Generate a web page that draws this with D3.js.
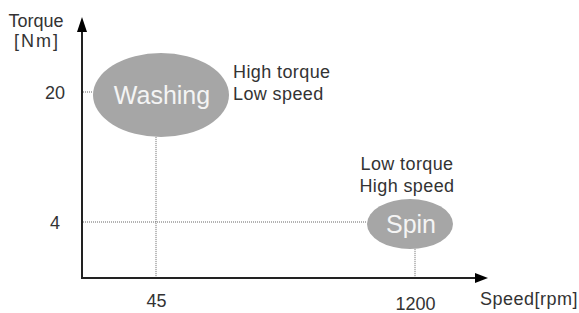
<!DOCTYPE html>
<html>
<head>
<meta charset="utf-8">
<script src="https://cdn.jsdelivr.net/npm/d3@7"></script>
<style>
  body { margin: 0; background: #fff; }
  svg text { font-family: "Liberation Sans", Arial, sans-serif; fill: #333; }
</style>
</head>
<body>
<svg id="chart" width="579" height="313"></svg>
<script>
// data
const modes = ['Washing', 'Spin'];
const speeds = [45, 1200];
const torques = [20, 4];
const notes = [['High torque', 'Low speed'], ['Low torque', 'High speed']];

const speedTicks = [45, 1200];
const torqueTicks = [20, 4];

// layout
const ORIGIN = [82, 278];
const X_END = 488;
const Y_END = 17;
const ARROW = 13;
const LABEL = 18;
const BLOB = [
    {rx: 68, ry: 42, dx: 5, dy: 3, font: 25, note: {x: 233, y: 72, anchor: 'start'}},
    {rx: 43, ry: 25, dx: -5, dy: 2, font: 25, note: {x: 407, y: 164, anchor: 'middle'}},
];
const FILL = '#a6a6a6';

const svg = d3.select('#chart');

const x = d3.scaleLinear().domain([45, 1200]).range([156, 415]);
const y = d3.scaleLinear().domain([4, 20]).range([222, 92]);

const guides = svg.append('g');
const blobs = svg.append('g');
const axes = svg.append('g');

// axis lines with arrow heads
axes.append('line')
    .attr('x1', ORIGIN[0]).attr('y1', ORIGIN[1])
    .attr('x2', X_END - ARROW).attr('y2', ORIGIN[1])
    .attr('stroke', '#222').attr('stroke-width', 2);
axes.append('path')
    .attr('d', `M${X_END},${ORIGIN[1]} L${X_END - ARROW},${ORIGIN[1] - 5} L${X_END - ARROW},${ORIGIN[1] + 5} Z`)
    .attr('fill', '#000');
axes.append('line')
    .attr('x1', ORIGIN[0]).attr('y1', ORIGIN[1] + 1)
    .attr('x2', ORIGIN[0]).attr('y2', Y_END + ARROW)
    .attr('stroke', '#222').attr('stroke-width', 2);
axes.append('path')
    .attr('d', `M${ORIGIN[0]},${Y_END} L${ORIGIN[0] - 5},${Y_END + ARROW + 2} L${ORIGIN[0] + 5},${Y_END + ARROW + 2} Z`)
    .attr('fill', '#000');

// tick labels through d3 axes
const xAxis = axes.append('g')
    .attr('transform', `translate(0,${ORIGIN[1]})`)
    .call(d3.axisBottom(x).tickValues(speedTicks).tickSize(0).tickPadding(16).tickFormat(d3.format('d')));
xAxis.select('.domain').remove();
xAxis.selectAll('text')
    .attr('font-size', LABEL)
    .attr('dy', (d, i) => i ? '0.88em' : '0.72em')
    .style('font-family', null);

const yAxis = axes.append('g')
    .attr('transform', 'translate(55,0)')
    .call(d3.axisLeft(y).tickValues(torqueTicks).tickSize(0).tickPadding(0));
yAxis.select('.domain').remove();
yAxis.selectAll('text')
    .attr('font-size', LABEL)
    .attr('text-anchor', 'middle')
    .attr('dy', '0.36em')
    .style('font-family', null);

axes.selectAll('.tick text').attr('fill', '#333');

// axis titles
svg.append('text').attr('x', 36).attr('y', 27).attr('text-anchor', 'middle')
    .attr('font-size', LABEL).text('Torque');
svg.append('text').attr('x', 37).attr('y', 47).attr('text-anchor', 'middle')
    .attr('font-size', LABEL).attr('letter-spacing', 2).text('[Nm]');
svg.append('text').attr('x', 578).attr('y', 305).attr('text-anchor', 'end')
    .attr('font-size', LABEL).attr('letter-spacing', 0.5).text('Speed[rpm]');

// dotted guides and ellipses
modes.forEach((m, i) => {
    const b = BLOB[i];
    const px = x(speeds[i]), py = y(torques[i]);
    const cx = px + b.dx, cy = py + b.dy;
    const t = (py - cy) / b.ry;
    const leftEdge = cx - b.rx * Math.sqrt(1 - t * t);
    const s = (px - cx) / b.rx;
    const bottomEdge = cy + b.ry * Math.sqrt(1 - s * s);

    guides.append('line')
        .attr('x1', ORIGIN[0] + 1).attr('y1', py)
        .attr('x2', leftEdge).attr('y2', py)
        .attr('stroke', '#666').attr('stroke-width', 1).attr('stroke-dasharray', '1,1');
    guides.append('line')
        .attr('x1', px).attr('y1', bottomEdge)
        .attr('x2', px).attr('y2', ORIGIN[1] - 1)
        .attr('stroke', '#666').attr('stroke-width', 1).attr('stroke-dasharray', '1,1');

    blobs.append('ellipse')
        .attr('cx', cx).attr('cy', cy)
        .attr('rx', b.rx).attr('ry', b.ry)
        .attr('fill', FILL);
    blobs.append('text')
        .attr('x', cx + 1).attr('y', cy)
        .attr('dy', '0.36em')
        .attr('text-anchor', 'middle')
        .attr('font-size', b.font)
        .style('fill', '#f4f4f4')
        .text(m);

    const n = svg.append('text')
        .attr('text-anchor', b.note.anchor)
        .attr('font-size', LABEL)
        .attr('letter-spacing', 0.4);
    notes[i].forEach((line, j) => {
        n.append('tspan').attr('x', b.note.x).attr('y', b.note.y + j * 22)
            .attr('dy', '0.36em').text(line);
    });
});
</script>
</body>
</html>
